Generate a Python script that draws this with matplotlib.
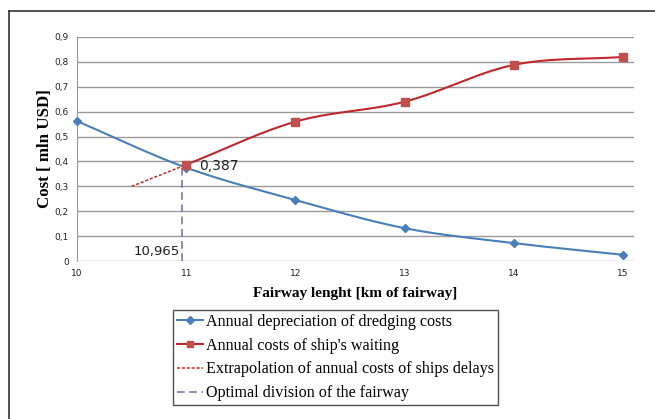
import numpy as np
import matplotlib.pyplot as plt
from matplotlib.lines import Line2D

# data ==============
dredge_x = [10, 11, 12, 13, 14, 15]
dredge_y = [0.562, 0.375, 0.245, 0.132, 0.072, 0.025]

wait_x = [11, 12, 13, 14, 15]
wait_y = [0.387, 0.560, 0.640, 0.788, 0.820]

extra_x = [10.5, 11.0]
extra_y = [0.300, 0.387]

opt_x = 10.965
opt_y = 0.387

yticks = [0, 0.1, 0.2, 0.3, 0.4, 0.5, 0.6, 0.7, 0.8, 0.9]
ytick_labels = ['0', '0,1', '0,2', '0,3', '0,4', '0,5', '0,6', '0,7', '0,8', '0,9']
xticks = [10, 11, 12, 13, 14, 15]

BLUE = '#4a7ebb'
RED_LINE = '#c0282d'
RED_MARK = '#c0504d'
PURPLE = '#8064a2'


def smooth(x, y, n=40):
    # catmull-rom style smoothing, similar to excel "smoothed line"
    x = np.asarray(x, float)
    y = np.asarray(y, float)
    px = np.concatenate([[2*x[0]-x[1]], x, [2*x[-1]-x[-2]]])
    py = np.concatenate([[2*y[0]-y[1]], y, [2*y[-1]-y[-2]]])
    xs, ys = [], []
    t = np.linspace(0, 1, n)
    for i in range(1, len(px)-2):
        p0x, p1x, p2x, p3x = px[i-1:i+3]
        p0y, p1y, p2y, p3y = py[i-1:i+3]
        m1x, m2x = (p2x-p0x)/2, (p3x-p1x)/2
        m1y, m2y = (p2y-p0y)/2, (p3y-p1y)/2
        h00 = 2*t**3-3*t**2+1
        h10 = t**3-2*t**2+t
        h01 = -2*t**3+3*t**2
        h11 = t**3-t**2
        xs.append(h00*p1x+h10*m1x+h01*p2x+h11*m2x)
        ys.append(h00*p1y+h10*m1y+h01*p2y+h11*m2y)
    return np.concatenate(xs), np.concatenate(ys)


fig = plt.figure(figsize=(6.55, 4.19), dpi=100)
ax = fig.add_axes([0.1176, 0.377, 0.8504, 0.5347])

# outer frame (clipped on the right)
fig.add_artist(Line2D([9/655, 1.0], [1-11/419, 1-11/419], color='#333333', lw=1.2))
fig.add_artist(Line2D([9/655, 9/655], [1-11/419, 0], color='#333333', lw=1.2))

sx, sy = smooth(dredge_x, dredge_y)
ax.plot(sx, sy, color=BLUE, lw=1.5, zorder=3)
ax.plot(dredge_x, dredge_y, ls='none', marker='D', ms=4, color=BLUE, zorder=4, clip_on=False)

sx, sy = smooth(wait_x, wait_y)
ax.plot(sx, sy, color=RED_LINE, lw=1.5, zorder=3)
ax.plot(wait_x, wait_y, ls='none', marker='s', ms=6, color=RED_MARK, zorder=4, clip_on=False)

ax.plot(extra_x, extra_y, color=RED_LINE, lw=1.1, ls=(0, (2, 1.2)), zorder=3)
ax.plot([opt_x, opt_x], [0, opt_y], color=PURPLE, lw=1.1, ls=(0, (5, 3)), zorder=2)

ax.text(11.12, 0.383, '0,387', fontsize=10, color='#222222', va='center', ha='left')
ax.text(10.52, 0.012, '10,965', fontsize=9.5, color='#222222', va='bottom', ha='left')

ax.set_xlim(10, 15.1)
ax.set_ylim(0, 0.9)
ax.set_yticks(yticks)
ax.set_yticklabels(ytick_labels)
ax.set_xticks(xticks)
ax.tick_params(length=0, labelsize=6.5, colors='#222222', pad=6)
ax.yaxis.grid(True, color='#9a9a9a', lw=1)
ax.set_axisbelow(True)
for s in ['top', 'right', 'bottom']:
    ax.spines[s].set_visible(False)
ax.spines['left'].set_color('#9a9a9a')

ax.set_ylabel('Cost [ mln USD]', family='Liberation Serif', fontweight='bold', fontsize=12.2)
ax.yaxis.set_label_coords(-0.0575, 0.5)
ax.yaxis.label.set_va('center')
ax.set_xlabel('Fairway lenght [km of fairway]', family='Liberation Serif', fontweight='bold', fontsize=11, labelpad=6)

handles = [
    Line2D([], [], color=BLUE, lw=1.5, marker='D', ms=4),
    Line2D([], [], color=RED_LINE, lw=1.5, marker='s', ms=5, mfc=RED_MARK, mec=RED_MARK),
    Line2D([], [], color=RED_LINE, lw=1.1, ls=(0, (2, 1.2))),
    Line2D([], [], color=PURPLE, lw=1.1, ls=(0, (5, 3))),
]
labels = ['Annual depreciation of dredging costs',
          "Annual costs of ship's waiting",
          'Extrapolation of annual costs of ships delays',
          'Optimal division of the fairway']
leg = fig.legend(handles, labels, loc='upper left', bbox_to_anchor=(173/655, 1-310/419),
                 prop={'family': 'Liberation Serif', 'size': 11.6}, frameon=True, fancybox=False,
                 handlelength=1.6, handletextpad=0.2, borderpad=0.25, labelspacing=0.48,
                 borderaxespad=0)
leg.get_frame().set_edgecolor('#222222')
leg.get_frame().set_linewidth(1.0)

plt.savefig('out.png', dpi=100)
